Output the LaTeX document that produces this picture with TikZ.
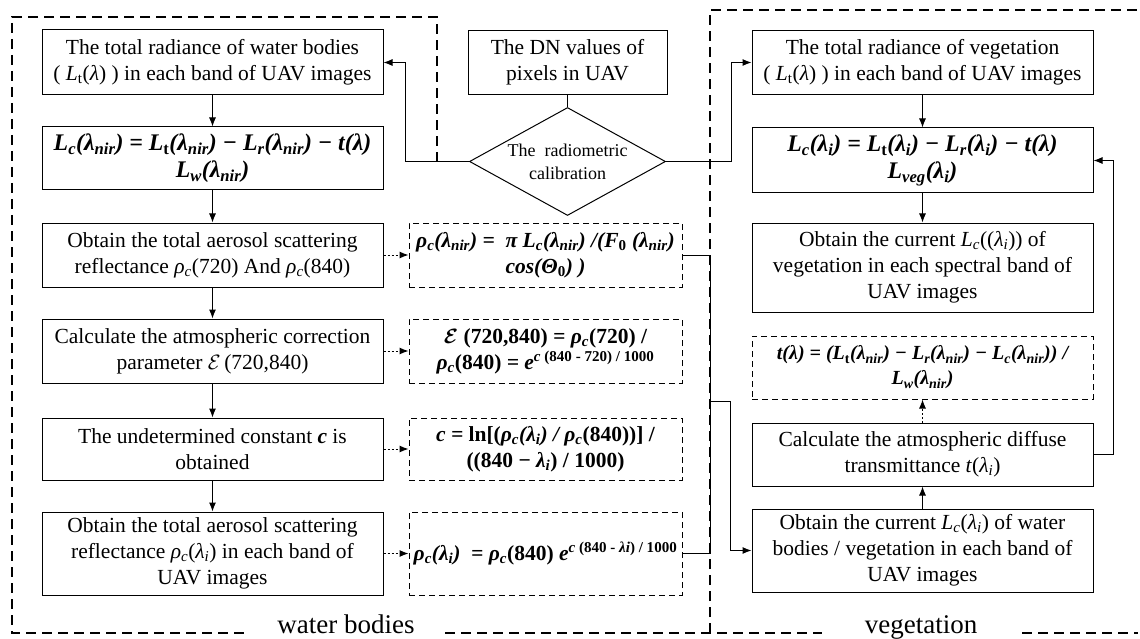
\documentclass[tikz,border=0pt]{standalone}
\usepackage{amsmath}
\usepackage{fontspec}
\setmainfont{Liberation Serif}
\usepackage{tikz}
\usetikzlibrary{arrows.meta, positioning, shapes.geometric}

\newcommand{\sbs}[1]{\textsubscript{#1}}
\newcommand{\sps}[1]{\textsuperscript{#1}}

\begin{document}
\begin{tikzpicture}[x=1pt, y=-1pt, node distance=96pt, on grid, line width=1pt,
        >={Latex[length=9pt,width=7pt]},
        box/.style={draw, rectangle, align=center, minimum width=341pt, inner sep=2pt,
            font=\fontsize{21.5}{26}\selectfont},
        eqbox/.style={box, font=\fontsize{21.5}{26}\selectfont\bfseries\itshape},
        bigeq/.style={eqbox, font=\fontsize{23.8}{27}\selectfont\bfseries\itshape},
        dbox/.style={eqbox, dash pattern=on 6pt off 4pt, minimum width=273pt},
        dotarrow/.style={->, dash pattern=on 2pt off 2pt},
        region/.style={dash pattern=on 10pt off 6pt, line width=1.1pt},
        label/.style={anchor=base, font=\fontsize{27}{30}\selectfont}]
        \useasboundingbox (0,0) rectangle (1140,639);

        % water bodies column
        \node[box, minimum height=65pt]     (l1)    at (212.5,62.5)        {The total radiance of water bodies\\( \textit{L}\sbs{t}(\textit{λ}) ) in each band of UAV images};
        \node[bigeq, minimum height=63pt]   (l2)    [below=96pt of l1]     {L\sbs{c}(λ\sbs{nir}) = L\sbs{\upshape t}(λ\sbs{nir}) − L\sbs{r}(λ\sbs{nir}) − t(λ)\\L\sbs{w}(λ\sbs{nir})};
        \node[box, minimum height=64pt]     (l3)    [below=96.5pt of l2]   {Obtain the total aerosol scattering\\reflectance \textit{ρ}\sbs{\textit{c}}(720) And \textit{ρ}\sbs{\textit{c}}(840)};
        \node[box, minimum height=64pt]     (l4)    [below=96pt of l3]     {Calculate the atmospheric correction\\parameter $\mathcal{E}$\,(720,840)};
        \node[box, minimum height=62pt]     (l5)    [below=98pt of l4]     {The undetermined constant \textbf{\textit{c}} is\\obtained};
        \node[box, minimum height=83pt]     (l6)    [below=104.5pt of l5]  {Obtain the total aerosol scattering\\reflectance \textit{ρ}\sbs{\textit{c}}(\textit{λ}\sbs{\textit{i}}) in each band of\\UAV images};

        % formulas
        \node[dbox, minimum height=64pt]    (m1)    [right=333pt of l3]    {ρ\sbs{c}(λ\sbs{nir}) =\ \ π L\sbs{c}(λ\sbs{nir}) /(F\sbs{\upshape 0} (λ\sbs{nir})\\cos(Θ\sbs{\upshape 0}) )};
        \node[dbox, minimum height=64pt]    (m2)    [right=333pt of l4]    {$\boldsymbol{\mathcal{E}}$ {\upshape(720,840)} = ρ\sbs{c}{\upshape(720) /}\\ρ\sbs{c}{\upshape(840)} = e\sps{c \upshape(840 - 720) / 1000}};
        \node[dbox, minimum height=62pt]    (m3)    [right=333pt of l5]    {c = {\upshape ln[(}ρ\sbs{c}(λ\sbs{i}) / ρ\sbs{c}{\upshape(840))] /}\\{\upshape((840 −} λ\sbs{i}{\upshape) / 1000)}};
        \node[dbox, minimum height=83pt]    (m4)    [right=333pt of l6]    {ρ\sbs{c}(λ\sbs{i})\ \ = ρ\sbs{c}{\upshape(840)} e\sps{c \upshape(840 - \itshape λi\upshape) / 1000}};

        \node[box, minimum width=199pt, minimum height=64pt] (dn) [right=355pt of l1] {The DN values of\\pixels in UAV};
        \node[draw, diamond, shape aspect=1.815, inner sep=-2pt, minimum width=196pt, minimum height=108pt,
            align=center, font=\fontsize{18}{23}\selectfont] (cal) [below=99pt of dn] {The\ \ radiometric\\calibration};

        % vegetation column
        \node[box, minimum height=64pt]     (r1)    [right=710pt of l1]    {The total radiance of vegetation\\( \textit{L}\sbs{t}(\textit{λ}) ) in each band of UAV images};
        \node[bigeq, minimum height=65pt]   (r2)    [below=98pt of r1]     {L\sbs{c}(λ\sbs{i}) = L\sbs{\upshape t}(λ\sbs{i}) − L\sbs{r}(λ\sbs{i}) − t(λ)\\L\sbs{veg}(λ\sbs{i})};
        \node[box, minimum height=89pt]     (r3)    [below=107pt of r2]    {Obtain the current \textit{L}\sbs{\textit{c}}((\textit{λ}\sbs{\textit{i}})) of\\vegetation in each spectral band of\\UAV images};
        \node[eqbox, font=\fontsize{20}{25}\selectfont\bfseries\itshape, dash pattern=on 6pt off 4pt, minimum height=63pt] (r4) [below=100pt of r3] {t(λ) = (L\sbs{\upshape t}(λ\sbs{nir}) − L\sbs{r}(λ\sbs{nir}) − L\sbs{c}(λ\sbs{nir})) /\\L\sbs{w}(λ\sbs{nir})};
        \node[box, minimum height=63pt]     (r5)    [below=87pt of r4]     {Calculate the atmospheric diffuse\\transmittance \textit{t}(\textit{λ}\sbs{\textit{i}})};
        \node[box, minimum height=83pt]     (r6)    [below=96pt of r5]     {Obtain the current \textit{L}\sbs{\textit{c}}(\textit{λ}\sbs{\textit{i}}) of water\\bodies / vegetation in each band of\\UAV images};

        \coordinate (bus) at (710,401);

        \path[->]   (l1) edge (l2)
        (l2) edge (l3)
        (l3) edge (l4)
        (l4) edge (l5)
        (l5) edge (l6)
        (r1) edge (r2)
        (r2) edge (r3)
        (r6) edge (r5);
        \path[dotarrow] (l3) edge (m1)
        (l4) edge (m2)
        (l5) edge (m3)
        (l6) edge (m4)
        (r5) edge (r4);

        \draw (dn) -- (cal);
        \draw[->] (cal.west) -| ([xshift=22pt]l1.east) -- (l1.east);
        \draw[->] (cal.east) -| ([xshift=-20pt]r1.west) -- (r1.west);
        \draw (m1.east) -| (bus);
        \draw (m4.east) -| (bus);
        \draw[->] (bus) -| ([xshift=-21pt]r6.west) -- (r6.west);
        \draw[->] (r5.east) -- ++(20,0) |- (r2.east);

        % regions
        \node[label] (wb)  at (346,633) {water bodies};
        \node[label] (veg) at (921,633) {vegetation};
        \draw[region] (437,162) -- (437,17) -- (12,17) -- (12,633) -- (247,633);
        \draw[region] (445,633) -- (822,633);
        \draw[region] (1022,633) -- (1138,633);
        \draw[region] (710,633) -- (710,10) -- (1140,10);
\end{tikzpicture}
\end{document}
